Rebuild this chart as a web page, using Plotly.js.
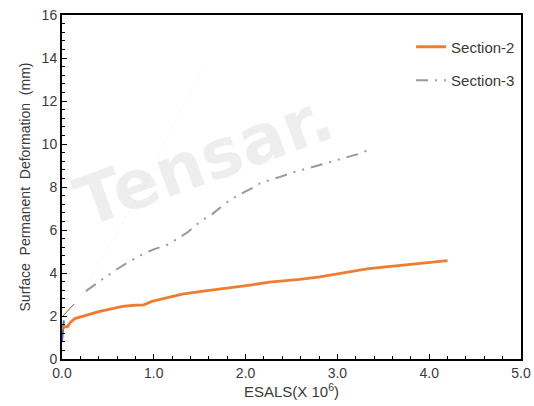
<!DOCTYPE html>
<html>
<head>
<meta charset="utf-8">
<script src="https://cdn.plot.ly/plotly-3.0.1.min.js"></script>
<style>html,body{margin:0;padding:0;background:#fff;}#chart{width:534px;height:406px;}</style>
</head>
<body>
<div id="chart"></div>
<script>
// Section-2 (orange)
const sec2X = [0.00, 0.03, 0.06, 0.09, 0.14, 0.21, 0.28, 0.40, 0.50, 0.66, 0.79, 0.89, 0.98, 1.09, 1.18, 1.31, 1.54, 1.73, 1.90, 2.07, 2.26, 2.59, 2.81, 2.95, 3.15, 3.32, 3.50, 3.68, 3.85, 4.04, 4.20];
const sec2Y = [1.40, 1.50, 1.50, 1.70, 1.88, 1.97, 2.05, 2.20, 2.30, 2.45, 2.50, 2.52, 2.68, 2.80, 2.88, 3.02, 3.16, 3.26, 3.35, 3.45, 3.58, 3.70, 3.82, 3.93, 4.06, 4.19, 4.27, 4.35, 4.44, 4.52, 4.58];
// Section-3 (grey dash-dot)
const sec3X = [0.26, 0.40, 0.57, 0.74, 0.89, 1.00, 1.14, 1.26, 1.37, 1.51, 1.64, 1.77, 1.91, 2.07, 2.17, 2.36, 2.53, 2.75, 2.96, 3.06, 3.24, 3.38];
const sec3Y = [3.16, 3.60, 4.10, 4.55, 4.90, 5.10, 5.30, 5.60, 5.90, 6.40, 6.75, 7.20, 7.60, 7.95, 8.20, 8.45, 8.70, 8.95, 9.20, 9.35, 9.55, 9.80];
// Minor artefacts near the origin
const blueX = [0.00, 0.01, 0.02];
const blueY = [0.80, 1.30, 1.80];
const darkX = [0.01, 0.13];
const darkY = [2.00, 2.55];
const yellowX = [0.05, 0.30, 0.52, 0.89, 1.18, 1.53];
const yellowY = [2.00, 3.60, 5.30, 8.00, 10.60, 13.60];
const xTicks = [0, 1, 2, 3, 4, 5];
const xTickText = ["0.0", "1.0", "2.0", "3.0", "4.0", "5.0"];

const traces = [
  {x: yellowX, y: yellowY, mode: 'lines', showlegend: false, hoverinfo: 'skip',
   line: {color: 'rgba(250,200,60,0.18)', width: 1, dash: 'dot'}},
  {x: blueX, y: blueY, mode: 'lines', showlegend: false, hoverinfo: 'skip',
   line: {color: '#4472c4', width: 2}},
  {x: darkX, y: darkY, mode: 'lines', showlegend: false, hoverinfo: 'skip',
   line: {color: '#555555', width: 1}},
  {x: sec2X, y: sec2Y, mode: 'lines', name: 'Section-2', legendgroup: 'a',
   line: {color: '#ef7d31', width: 2.8}},
  {x: sec3X, y: sec3Y, mode: 'lines', name: 'Section-3', legendgroup: 'b',
   line: {color: '#999999', width: 2, dash: '12px,7px,2px,7px,2px,7px'}}
];

const layout = {
  width: 534, height: 406,
  margin: {l: 62, r: 13, t: 15, b: 47},
  paper_bgcolor: '#ffffff', plot_bgcolor: '#ffffff',
  font: {family: 'Liberation Sans, Arial, sans-serif', size: 14, color: '#3a3a3a'},
  showlegend: true,
  legend: {x: 0.998, y: 0.955, xanchor: 'right', yanchor: 'top', bgcolor: 'rgba(0,0,0,0)',
           font: {size: 15, color: '#3a3a3a'}, traceorder: 'grouped', tracegroupgap: 11},
  xaxis: {
    range: [0, 5], tickvals: xTicks, ticktext: xTickText,
    ticks: 'inside', ticklen: 5, tickwidth: 1, tickcolor: '#000',
    minor: {dtick: 0.2, ticks: 'inside', ticklen: 3, tickcolor: '#000'},
    showgrid: false, zeroline: false,
    showline: true, linecolor: '#000', linewidth: 2, mirror: true,
    title: {text: 'ESALS(X 10<sup>6</sup>)', font: {size: 15, color: '#3a3a3a'}, standoff: 6},
    tickfont: {size: 14, color: '#3a3a3a'}
  },
  yaxis: {
    range: [0, 16], dtick: 2,
    ticks: 'inside', ticklen: 5, tickwidth: 1, tickcolor: '#000',
    minor: {dtick: 0.4, ticks: 'inside', ticklen: 3, tickcolor: '#000'},
    showgrid: false, zeroline: false,
    showline: true, linecolor: '#000', linewidth: 2, mirror: true,
    title: {text: 'Surface  Permanent  Deformation  (mm)', font: {size: 14, color: '#3a3a3a'}, standoff: 8},
    tickfont: {size: 14, color: '#3a3a3a'}
  },
  annotations: [{
    xref: 'paper', yref: 'paper', x: 0.31, y: 0.58, xanchor: 'center', yanchor: 'middle',
    text: '<b>Tensar.</b>', showarrow: false, textangle: -20,
    font: {family: 'DejaVu Sans, Arial, sans-serif', size: 68, color: 'rgba(0,0,0,0.065)'}
  }]
};

Plotly.newPlot('chart', traces, layout, {displayModeBar: false, staticPlot: true});
</script>
</body>
</html>
